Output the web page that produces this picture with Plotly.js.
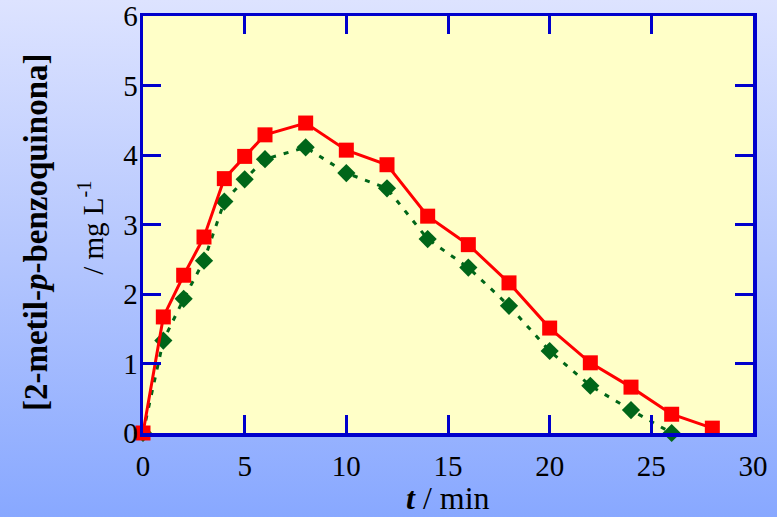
<!DOCTYPE html>
<html>
<head>
<meta charset="utf-8">
<script src="https://cdn.plot.ly/plotly-3.0.1.min.js"></script>
<style>
html,body{margin:0;padding:0;}
#chart{width:777px;height:517px;background:linear-gradient(to bottom,#dde3ff 0%,#b4c6fe 50%,#88a8ff 100%);}
</style>
</head>
<body>
<div id="chart"></div>
<script>
const tRed = [0,1,2,3,4,5,6,8,10,12,14,16,18,20,22,24,26,28];
const concRed = [0,1.67,2.27,2.82,3.66,3.98,4.29,4.46,4.07,3.86,3.12,2.71,2.16,1.51,1.01,0.66,0.27,0.07];
const tGreen = [0,1,2,3,4,5,6,8,10,12,14,16,18,20,22,24,26];
const concGreen = [0,1.33,1.93,2.48,3.33,3.65,3.94,4.11,3.74,3.52,2.79,2.38,1.83,1.18,0.68,0.33,0.0];
const xTicks = [0,5,10,15,20,25,30];
const yTicks = [0,1,2,3,4,5,6];

const axisBlue = '#0000cc';
const serif = 'Liberation Serif';

const traces = [
  {
    x: tGreen, y: concGreen, type: 'scatter', mode: 'lines+markers',
    line: {color: '#006619', width: 3, dash: '5px,8px'},
    marker: {symbol: 'diamond', size: 14, color: '#006619'},
    cliponaxis: false, showlegend: false
  },
  {
    x: tRed, y: concRed, type: 'scatter', mode: 'lines+markers',
    line: {color: '#ff0000', width: 3},
    marker: {symbol: 'square', size: 15, color: '#ff0000'},
    cliponaxis: false, showlegend: false
  }
];

const layout = {
  width: 777, height: 517,
  margin: {l: 143, r: 24, t: 16, b: 84},
  paper_bgcolor: 'rgba(0,0,0,0)',
  plot_bgcolor: '#ffffc8',
  font: {family: serif, size: 28, color: '#000'},
  xaxis: {
    range: [0, 30], tickvals: xTicks, ticktext: xTicks.map(String),
    showgrid: false, zeroline: false,
    showline: true, linecolor: axisBlue, linewidth: 3.5, mirror: 'ticks',
    ticks: 'inside', ticklen: 18, tickwidth: 3, tickcolor: axisBlue,
    tickfont: {family: serif, size: 29, color: '#000'},
    ticklabelstandoff: 5
  },
  yaxis: {
    range: [0, 6], tickvals: yTicks, ticktext: yTicks.map(String),
    showgrid: false, zeroline: false,
    showline: true, linecolor: axisBlue, linewidth: 3.5, mirror: 'ticks',
    ticks: 'inside', ticklen: 18, tickwidth: 3, tickcolor: axisBlue,
    tickfont: {family: serif, size: 29, color: '#000'},
    ticklabelstandoff: -4
  },
  annotations: [
    {
      text: '<b>[2-metil-<i>p</i>-benzoquinona]</b>',
      xref: 'paper', yref: 'paper', x: -0.1754, y: 0.482,
      xanchor: 'center', yanchor: 'middle', textangle: -90, showarrow: false,
      font: {family: serif, size: 33, color: '#000'}
    },
    {
      text: '/ mg L<sup>-1</sup>',
      xref: 'paper', yref: 'paper', x: -0.0852, y: 0.492,
      xanchor: 'center', yanchor: 'middle', textangle: -90, showarrow: false,
      font: {family: serif, size: 29, color: '#000'}
    },
    {
      text: '<b><i>t</i></b> / min',
      xref: 'paper', yref: 'paper', x: 0.5, y: -0.157,
      xanchor: 'center', yanchor: 'middle', showarrow: false,
      font: {family: serif, size: 32, color: '#000'}
    }
  ]
};

Plotly.newPlot('chart', traces, layout, {displayModeBar: false, staticPlot: true});
</script>
</body>
</html>
